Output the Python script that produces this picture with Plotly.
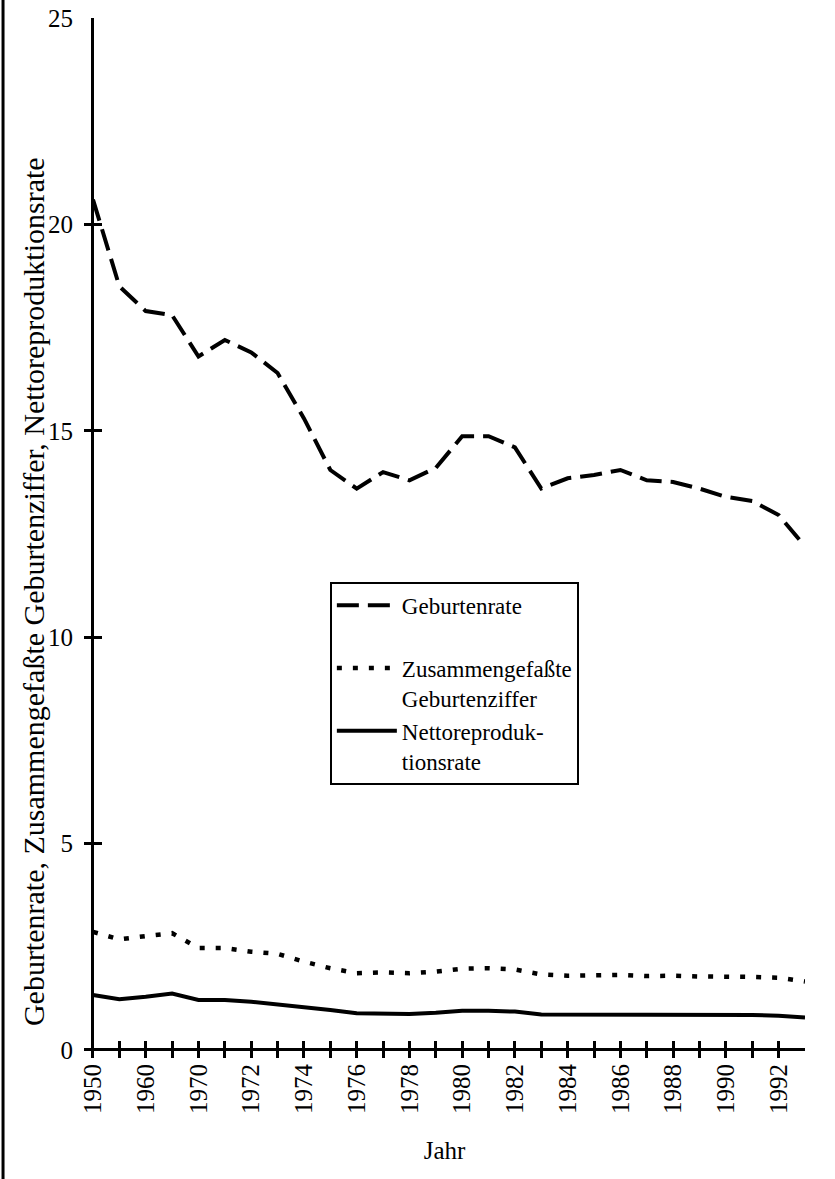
import plotly.graph_objects as go

years = ["1950", "1955", "1960", "1965", "1970", "1971", "1972", "1973", "1974", "1975",
         "1976", "1977", "1978", "1979", "1980", "1981", "1982", "1983", "1984", "1985",
         "1986", "1987", "1988", "1989", "1990", "1991", "1992", "1993"]

geburtenrate = [20.6, 18.5, 17.9, 17.8, 16.8, 17.2, 16.9, 16.4, 15.3, 14.05,
                13.6, 14.0, 13.8, 14.1, 14.87, 14.87, 14.6, 13.6, 13.85, 13.93,
                14.05, 13.8, 13.76, 13.6, 13.4, 13.3, 12.96, 12.2]

zus_geburtenziffer = [2.86, 2.68, 2.76, 2.83, 2.47, 2.47, 2.38, 2.33, 2.14, 1.98,
                      1.86, 1.88, 1.86, 1.9, 1.97, 1.98, 1.95, 1.83, 1.8, 1.8,
                      1.82, 1.79, 1.8, 1.78, 1.78, 1.77, 1.75, 1.66]

nettoreproduktionsrate = [1.33, 1.23, 1.29, 1.37, 1.21, 1.21, 1.17, 1.11, 1.05, 0.97,
                          0.89, 0.89, 0.87, 0.9, 0.95, 0.95, 0.93, 0.86, 0.86, 0.86,
                          0.87, 0.86, 0.86, 0.86, 0.85, 0.85, 0.83, 0.79]

y_ticks = [0, 5, 10, 15, 20, 25]

idx = list(range(len(years)))
tick_text = [y if i % 2 == 0 else "" for i, y in enumerate(years)]

FONT = "Liberation Serif, Times New Roman, serif"

fig = go.Figure()
fig.add_trace(go.Scatter(x=idx, y=geburtenrate, mode="lines", name="Geburtenrate<br> ",
                         line=dict(color="black", width=4, dash="22px,9px")))
fig.add_trace(go.Scatter(x=idx, y=zus_geburtenziffer, mode="lines",
                         name="Zusammengefaßte<br>Geburtenziffer",
                         line=dict(color="black", width=4.5, dash="5px,11px")))
fig.add_trace(go.Scatter(x=idx, y=nettoreproduktionsrate, mode="lines",
                         name="Nettoreproduk-<br>tionsrate",
                         line=dict(color="black", width=4)))

fig.update_layout(
    width=835, height=1179,
    margin=dict(l=84, r=30, t=18, b=121),
    paper_bgcolor="white", plot_bgcolor="white",
    font=dict(family=FONT, size=23, color="black"),
    showlegend=True,
    legend=dict(x=0.341, y=0.458, xanchor="left", yanchor="top",
                bgcolor="white", bordercolor="black", borderwidth=2,
                font=dict(family=FONT, size=23, color="black"),
                valign="top", itemwidth=60),
    xaxis=dict(range=[-0.341, 27], tickmode="array", tickvals=idx, ticktext=tick_text,
               ticks="inside", ticklen=17, tickwidth=3, tickcolor="black",
               showline=False, showgrid=False,
               zeroline=True, zerolinecolor="black", zerolinewidth=3,
               tickangle=-90, automargin=False,
               tickfont=dict(family=FONT, size=25),
               title=dict(text="Jahr", font=dict(family=FONT, size=25), standoff=28)),
    yaxis=dict(range=[-0.194, 25], tickmode="array", tickvals=y_ticks,
               ticks="inside", ticklen=18, tickwidth=3, tickcolor="black",
               showline=False, showgrid=False,
               zeroline=True, zerolinecolor="black", zerolinewidth=3,
               automargin=False, ticklabelstandoff=10,
               tickfont=dict(family=FONT, size=25)),
)

fig.add_annotation(text="Geburtenrate, Zusammengefaßte Geburtenziffer, Nettoreproduktionsrate",
                   xref="paper", yref="paper", x=-0.0707, y=0.448, textangle=-90,
                   showarrow=False, font=dict(family=FONT, size=30, color="black"),
                   xanchor="center", yanchor="middle")

# page border line at the left edge
fig.add_shape(type="line", xref="paper", yref="paper", x0=-0.1123, x1=-0.1123, y0=-0.13, y1=1.03,
              line=dict(color="black", width=3))

fig.write_html("out.html", config={"displayModeBar": False},
               post_script="document.body.style.margin='0';")
